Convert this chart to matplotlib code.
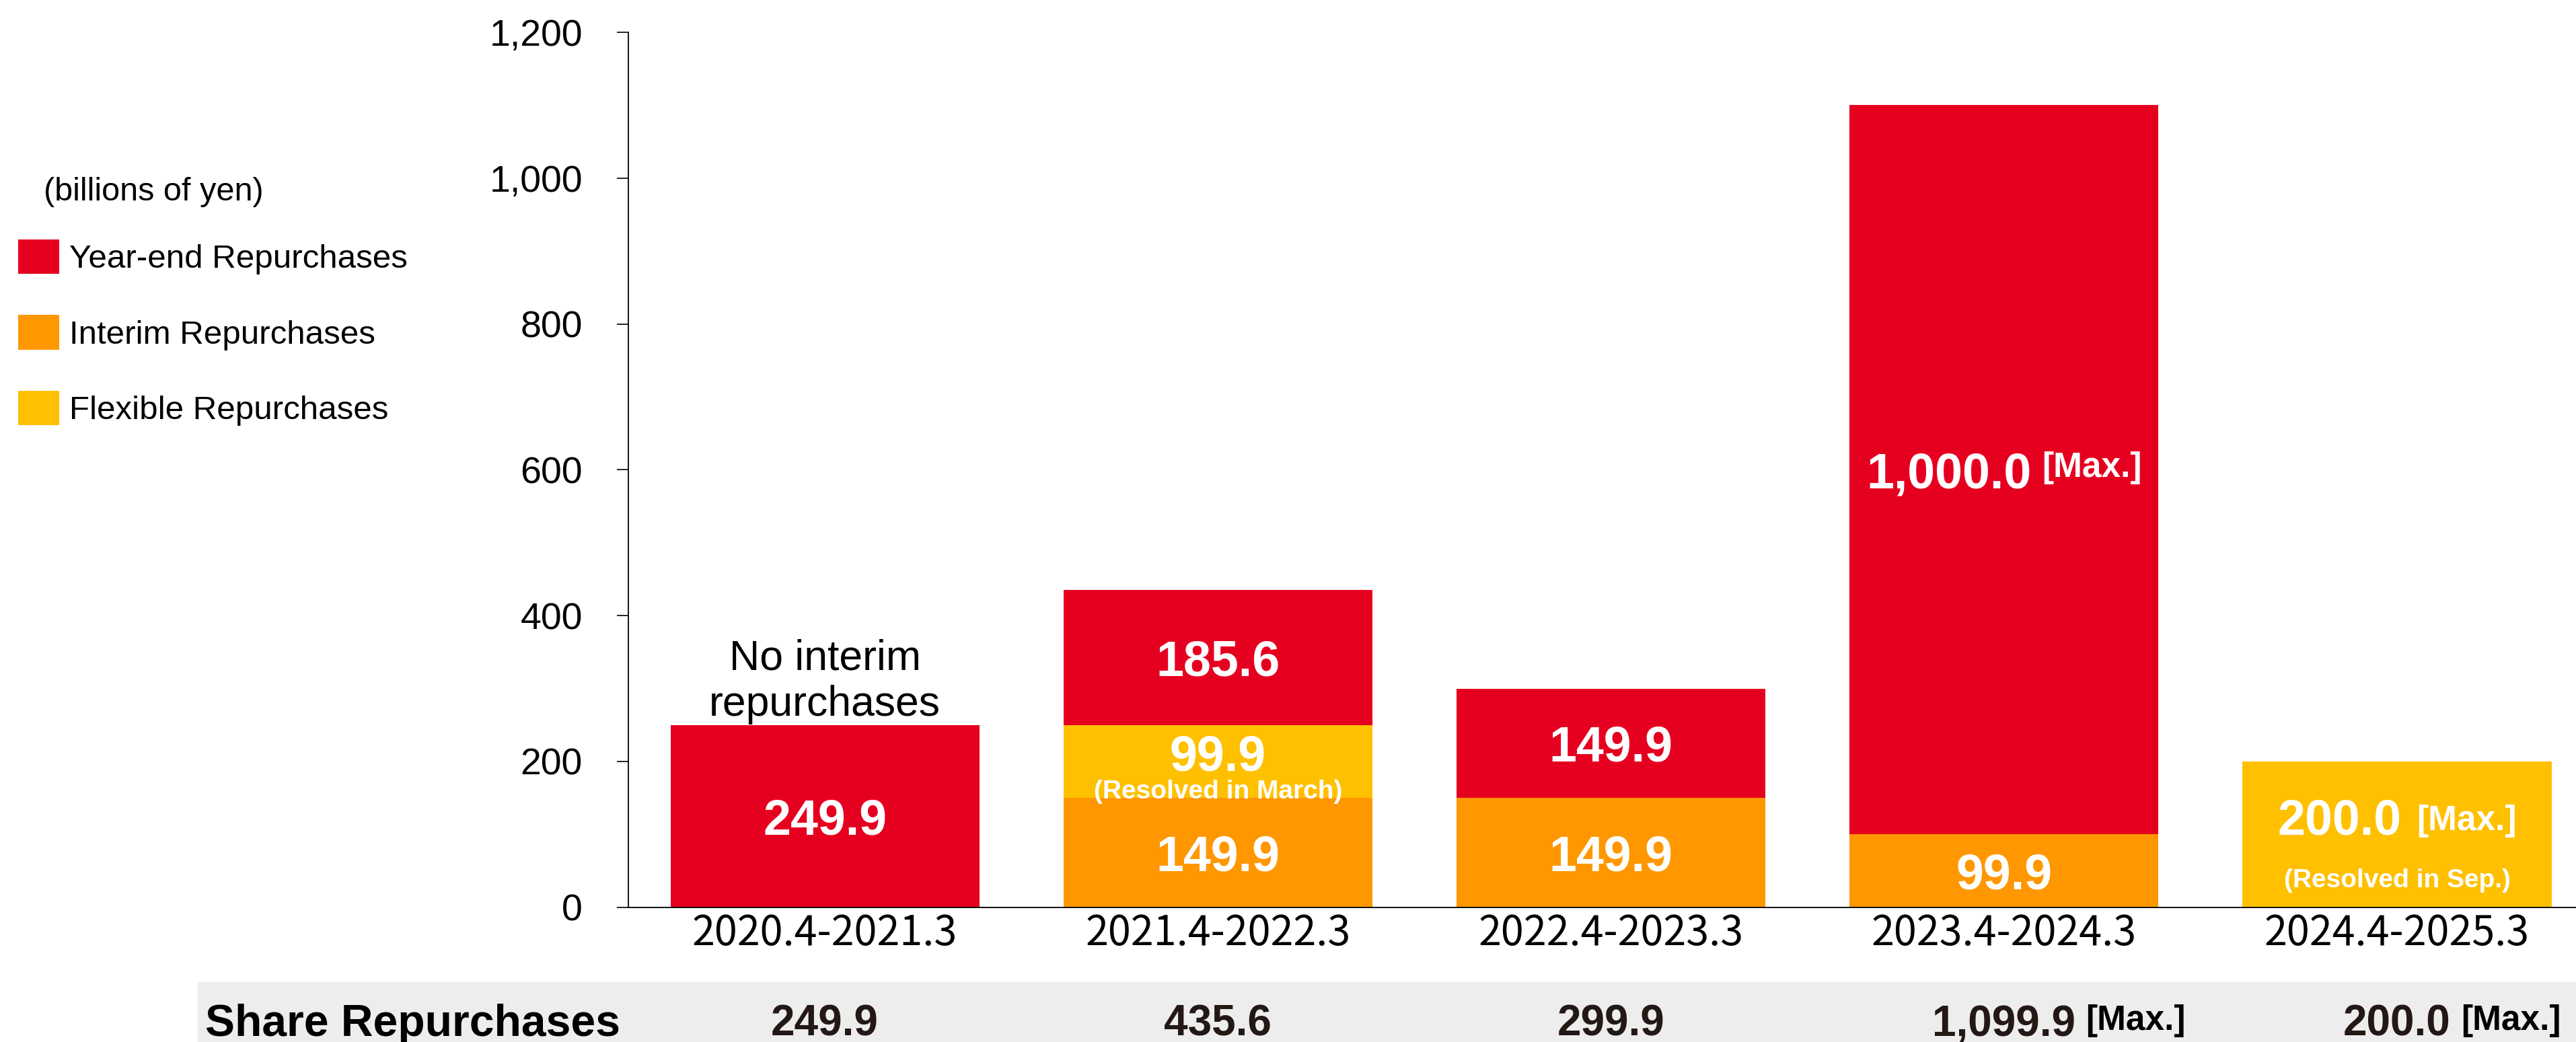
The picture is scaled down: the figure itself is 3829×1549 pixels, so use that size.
import numpy as np
import matplotlib
matplotlib.use('Agg')
import matplotlib.pyplot as plt
from matplotlib import transforms

plt.rcParams['font.family'] = ['Liberation Sans', 'DejaVu Sans']
CJK = ['Noto Sans CJK JP', 'DejaVu Sans']

# data (billions of yen)
periods = ['2020.4-2021.3', '2021.4-2022.3', '2022.4-2023.3', '2023.4-2024.3', '2024.4-2025.3']
year_end = [249.9, 185.6, 149.9, 1000.0, 0.0]
interim = [0.0, 149.9, 149.9, 99.9, 0.0]
flexible = [0.0, 99.9, 0.0, 0.0, 200.0]
year_end_max = [False, False, False, True, False]
flexible_max = [False, False, False, False, True]
flexible_note = ['', '(Resolved in March)', '', '', '(Resolved in Sep.)']
totals = ['249.9', '435.6', '299.9', '1,099.9', '200.0']
totals_max = [False, False, False, True, True]
yticks = [0, 200, 400, 600, 800, 1000, 1200]
series_names = ['Year-end Repurchases', 'Interim Repurchases', 'Flexible Repurchases']

RED = '#E60020'
ORANGE = '#FF9700'
YELLOW = '#FFC000'

W, H = 3830, 1549
fig = plt.figure(figsize=(W / 100, H / 100), dpi=100)
ax = fig.add_axes([934 / W, 1 - 1348.5 / H, 1 - 934 / W, (1348.5 - 48) / H])

x = np.arange(len(periods))
interim = np.array(interim)
flexible = np.array(flexible)
year_end = np.array(year_end)
bw = 0.786

b_int = ax.bar(x, interim, bw, color=ORANGE, lw=0)
b_flex = ax.bar(x, flexible, bw, bottom=interim, color=YELLOW, lw=0)
b_year = ax.bar(x, year_end, bw, bottom=interim + flexible, color=RED, lw=0)

ax.set_xlim(-0.5, 4.457)
ax.set_ylim(0, 1200)
ax.spines[['top', 'right']].set_visible(False)
ax.spines['left'].set_linewidth(1.3)
ax.spines['bottom'].set_linewidth(1.3)
ax.set_yticks(yticks)
ax.set_yticklabels([f'{v:,}' for v in yticks])
ax.set_xticks(x)
ax.set_xticklabels(periods)
ax.tick_params(axis='y', direction='out', length=12, width=1.2, pad=37, labelsize=40)
ax.tick_params(axis='x', length=0, pad=6, labelsize=44)
for lab in ax.get_xticklabels():
    lab.set_fontfamily(CJK)

renderer = fig.canvas.get_renderer()
VA = 'center_baseline'


def num_with_max(xc, y, num, fs, mfs, gap, dy=0):
    t1 = ax.text(xc, y, num, ha='center', va=VA, color='white',
                 fontsize=fs, fontweight='bold')
    t2 = ax.annotate('[Max.]', xy=(1, 1), xycoords=t1, xytext=(gap, dy),
                     textcoords='offset points', ha='left', va='top',
                     color='white', fontsize=mfs, fontweight='bold')
    # centre number + [Max.] as one group on the bar
    w2 = t2.get_window_extent(renderer).width
    shift = (gap * fig.dpi / 72 + w2) / 2
    t1.set_transform(ax.transData + transforms.ScaledTranslation(
        -shift / fig.dpi, 0, fig.dpi_scale_trans))


for i in range(len(periods)):
    # interim
    if interim[i] > 0:
        ax.text(i, interim[i] / 2, f'{interim[i]:,.1f}', ha='center', va=VA,
                color='white', fontsize=53, fontweight='bold')
    # flexible
    if flexible[i] > 0:
        mid = interim[i] + flexible[i] / 2
        ytxt = mid + 0.125 * flexible[i]
        if flexible_max[i]:
            num_with_max(i, ytxt, f'{flexible[i]:,.1f}', 53, 37, 16, dy=-7)
        else:
            ax.text(i, ytxt, f'{flexible[i]:,.1f}', ha='center', va=VA,
                    color='white', fontsize=53, fontweight='bold')
        if flexible_note[i]:
            ynote = interim[i] + (0.12 if flexible[i] < 150 else 0.2) * flexible[i]
            ax.text(i, ynote, flexible_note[i], ha='center', va=VA, color='white',
                    fontsize=28, fontweight='bold')
    # year-end
    if year_end[i] > 0:
        mid = interim[i] + flexible[i] + year_end[i] / 2
        if year_end_max[i]:
            num_with_max(i, mid, f'{year_end[i]:,.1f}', 53, 37, 11)
        else:
            ax.text(i, mid, f'{year_end[i]:,.1f}', ha='center', va=VA,
                    color='white', fontsize=53, fontweight='bold')

# note above the first bar
ax.text(0, interim[0] + flexible[0] + year_end[0] + 1, 'No interim\nrepurchases',
        ha='center', va='bottom', fontsize=45, linespacing=1.2, color='black')

# legend and unit
leg = ax.legend([b_year[0], b_int[0], b_flex[0]], series_names, loc='upper left',
                bbox_to_anchor=(27 / W, 1 - 356 / H), bbox_transform=fig.transFigure,
                frameon=False, prop={'size': 35.5},
                handlelength=1.24, handleheight=1.22, handletextpad=0.3,
                labelspacing=1.22, borderpad=0, borderaxespad=0)
fig.text(65 / W, 1 - 298 / H, '(billions of yen)', va='baseline', fontsize=35)

# bottom summary row
fig.add_artist(plt.Rectangle((294 / W, 0), 1 - 294 / W, 89 / H,
                             transform=fig.transFigure, color='#EDEDED', zorder=0))
yb = 1 - 1540 / H
fig.text(305 / W, yb, 'Share Repurchases', va='baseline', fontsize=47.5,
         fontweight='bold', color='black')
blend = transforms.blended_transform_factory(ax.transData, fig.transFigure)
for i, s in enumerate(totals):
    t = fig.text(i, yb, s, transform=blend, ha='center', va='baseline', fontsize=46,
                 fontweight='bold', color='#231815')
    if totals_max[i]:
        ax.annotate('[Max.]', xy=(1, 1), xycoords=t, xytext=(11, 0),
                    textcoords='offset points', ha='left', va='top',
                    fontsize=37, fontweight='bold', color='black')

fig.savefig('out.png', dpi=100)
